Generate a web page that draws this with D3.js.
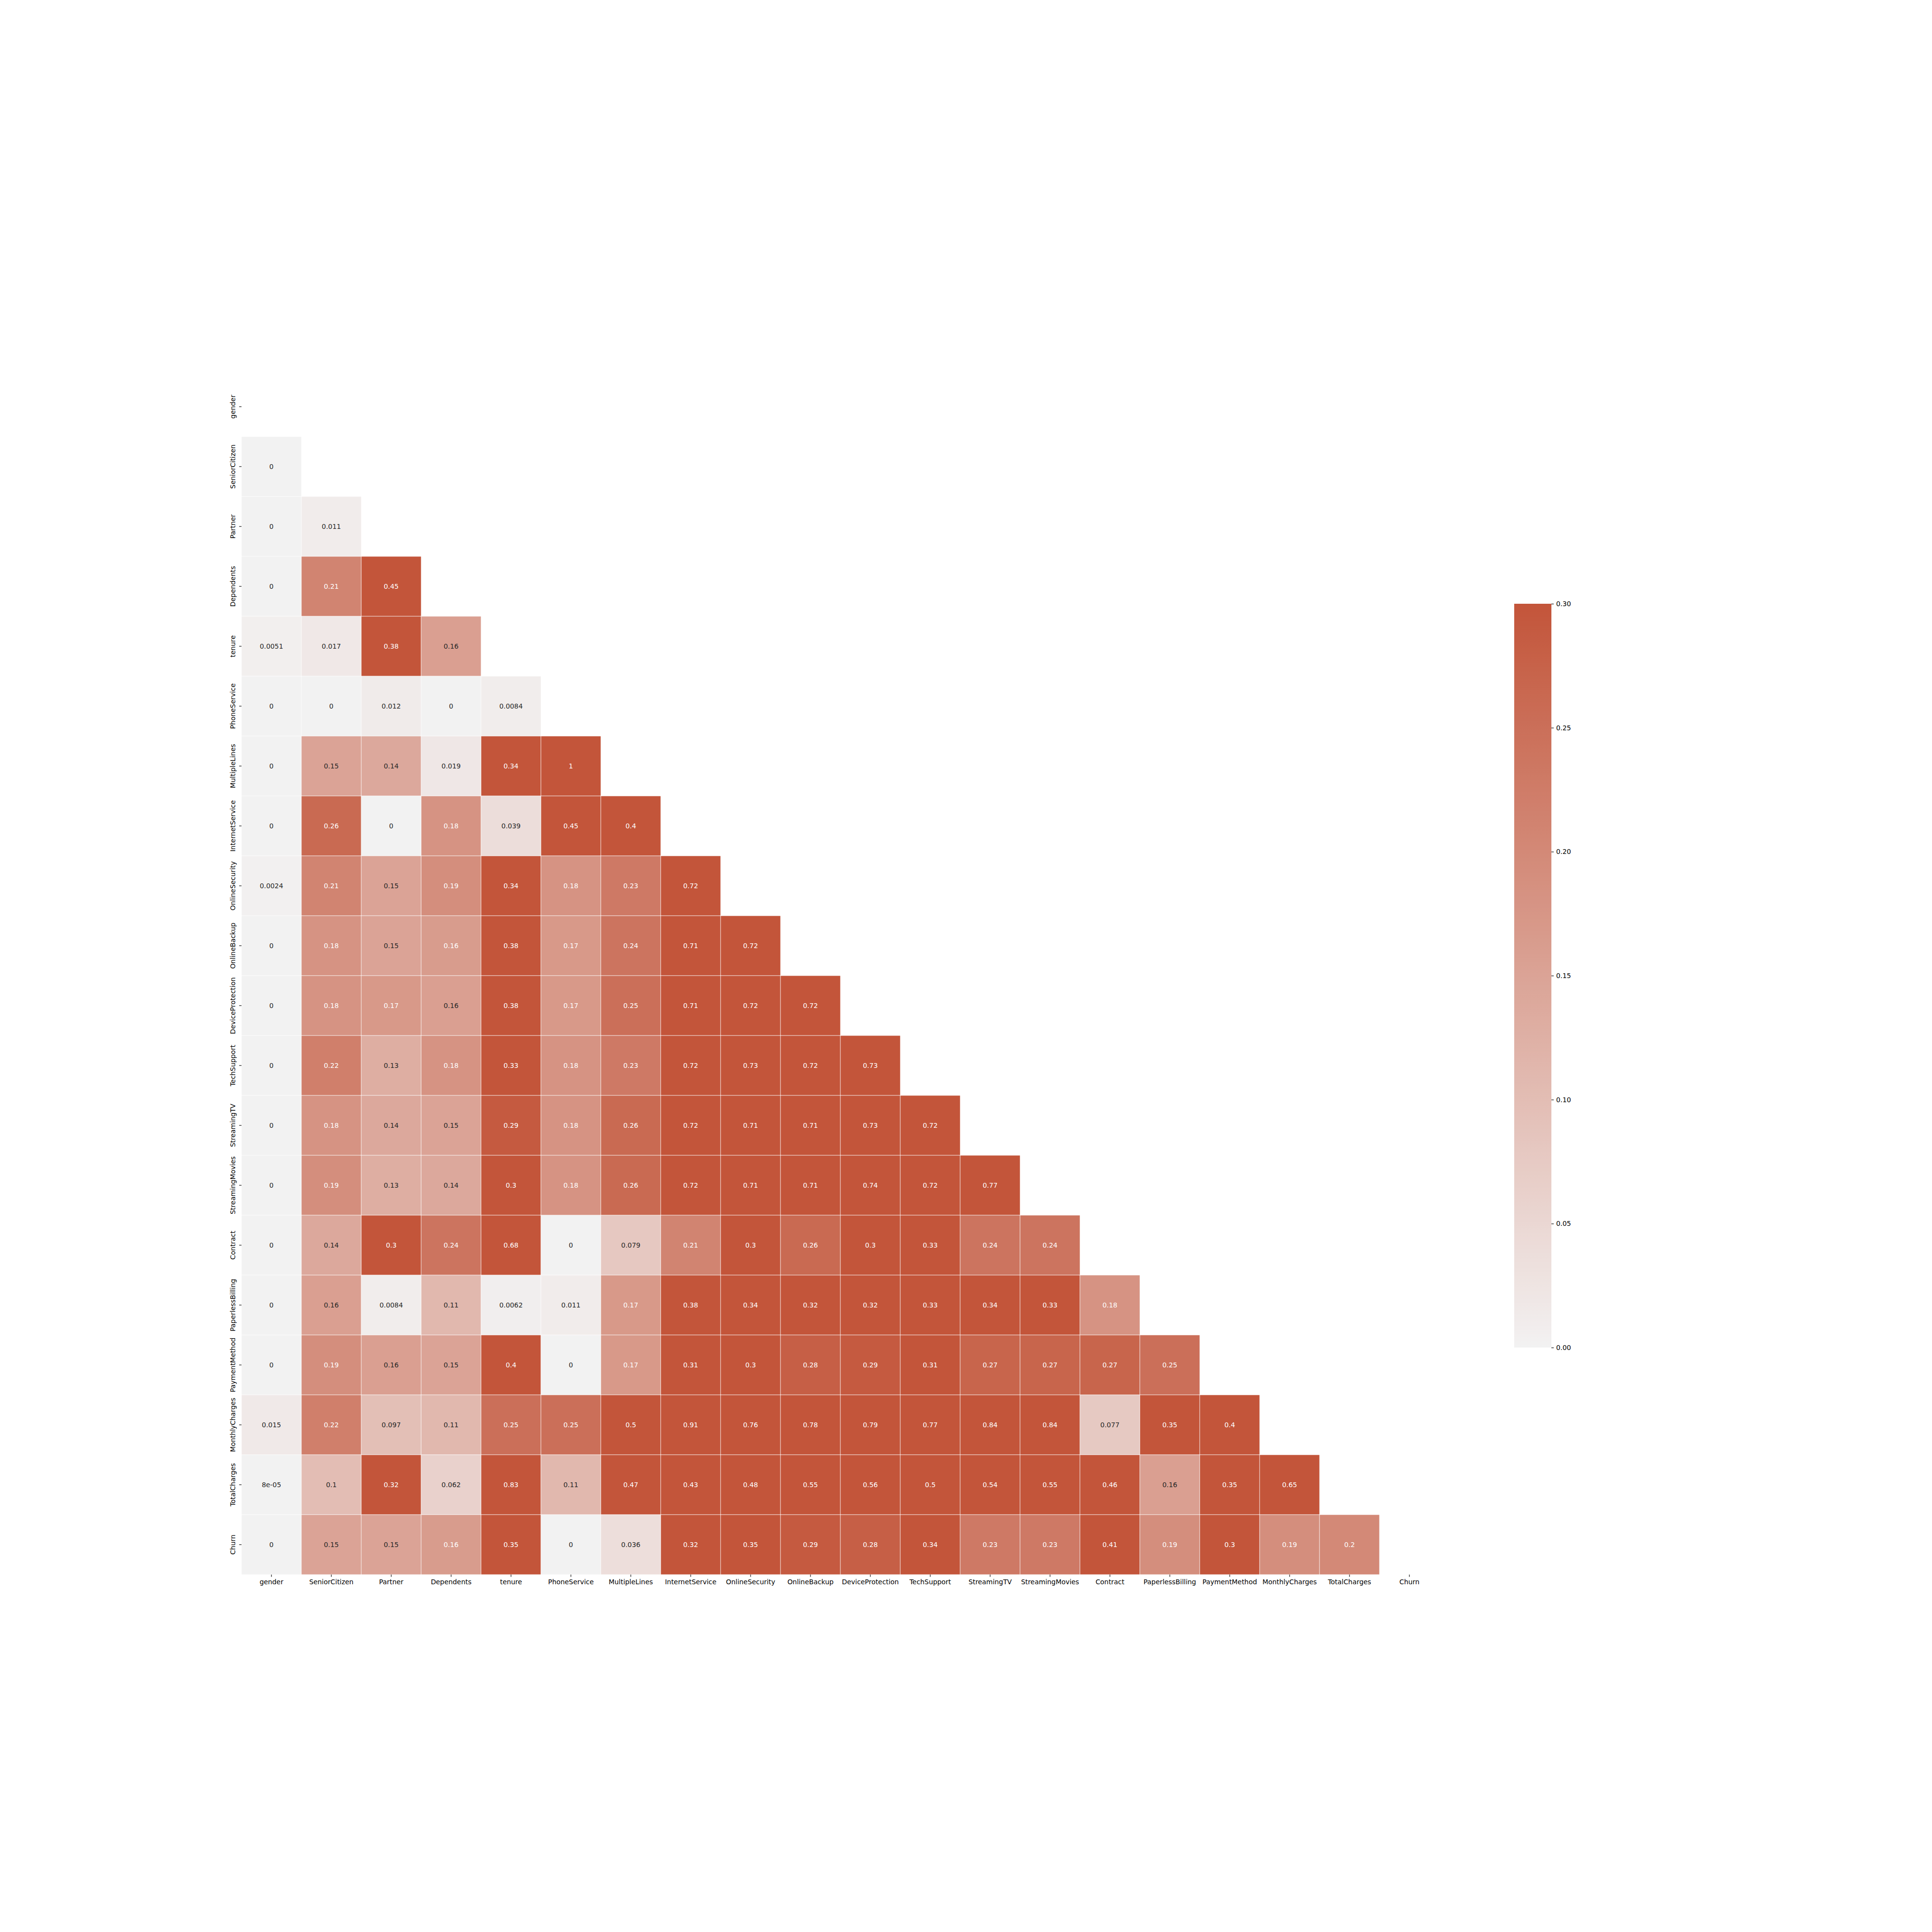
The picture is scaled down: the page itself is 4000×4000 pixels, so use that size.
<!DOCTYPE html>
<html><head><meta charset="utf-8">
<script src="https://cdn.jsdelivr.net/npm/d3@7"></script>
<style>body{margin:0;background:#fff}</style>
</head><body>
<script>
// ---------- DATA ----------
const labels = ["gender","SeniorCitizen","Partner","Dependents","tenure","PhoneService",
  "MultipleLines","InternetService","OnlineSecurity","OnlineBackup","DeviceProtection",
  "TechSupport","StreamingTV","StreamingMovies","Contract","PaperlessBilling",
  "PaymentMethod","MonthlyCharges","TotalCharges","Churn"];

// lower triangle (row i holds columns 0..i-1)
const corrRows = [
  [],
  [0],
  [0, 0.011],
  [0, 0.21, 0.45],
  [0.0051, 0.017, 0.38, 0.157],
  [0, 0, 0.012, 0, 0.0084],
  [0, 0.15, 0.14, 0.019, 0.34, 1],
  [0, 0.26, 0, 0.18, 0.039, 0.45, 0.4],
  [0.0024, 0.21, 0.15, 0.19, 0.34, 0.18, 0.23, 0.72],
  [0, 0.18, 0.15, 0.164, 0.38, 0.17, 0.24, 0.71, 0.72],
  [0, 0.18, 0.17, 0.157, 0.38, 0.17, 0.25, 0.71, 0.72, 0.72],
  [0, 0.22, 0.13, 0.18, 0.33, 0.18, 0.23, 0.72, 0.73, 0.72, 0.73],
  [0, 0.18, 0.14, 0.15, 0.29, 0.18, 0.26, 0.72, 0.71, 0.71, 0.73, 0.72],
  [0, 0.19, 0.13, 0.14, 0.3, 0.18, 0.26, 0.72, 0.71, 0.71, 0.74, 0.72, 0.77],
  [0, 0.14, 0.3, 0.24, 0.68, 0, 0.079, 0.21, 0.3, 0.26, 0.3, 0.33, 0.24, 0.24],
  [0, 0.157, 0.0084, 0.11, 0.0062, 0.011, 0.17, 0.38, 0.34, 0.32, 0.32, 0.33, 0.34, 0.33, 0.18],
  [0, 0.19, 0.157, 0.15, 0.4, 0, 0.17, 0.31, 0.3, 0.28, 0.29, 0.31, 0.27, 0.27, 0.27, 0.25],
  [0.015, 0.22, 0.097, 0.11, 0.25, 0.25, 0.5, 0.91, 0.76, 0.78, 0.79, 0.77, 0.84, 0.84, 0.077, 0.35, 0.4],
  [0.00008, 0.1, 0.32, 0.062, 0.83, 0.11, 0.47, 0.43, 0.48, 0.55, 0.56, 0.5, 0.54, 0.55, 0.46, 0.157, 0.35, 0.65],
  [0, 0.15, 0.15, 0.164, 0.35, 0, 0.036, 0.32, 0.35, 0.29, 0.28, 0.34, 0.23, 0.23, 0.41, 0.19, 0.3, 0.19, 0.2]
];

const cbarTicks = [0, 0.05, 0.10, 0.15, 0.20, 0.25, 0.30];
const vmax = 0.3;

// ---------- LAYOUT ----------
const W = 4000, H = 4000;
const FONT = "DejaVu Sans";
const FS = 13.9;
const TICK = 4.86;

const svg = d3.select("body").append("svg")
  .attr("width", W).attr("height", H)
  .style("font-family", FONT);
svg.append("rect").attr("width", W).attr("height", H).attr("fill", "#fff");

const x = d3.scaleBand().domain(labels).range([500, 2980]);
const y = d3.scaleBand().domain(labels).range([780, 3260]);
const color = d3.scaleLinear()
  .domain([0, vmax / 127, vmax])
  .range(["rgb(242,242,242)", "rgb(242,240,240)", "rgb(195,85,58)"])
  .clamp(true);

function lum(c) {
  const r = d3.rgb(c);
  const f = v => { v /= 255; return v <= 0.03928 ? v / 12.92 : Math.pow((v + 0.055) / 1.055, 2.4); };
  return 0.2126 * f(r.r) + 0.7152 * f(r.g) + 0.0722 * f(r.b);
}
function fmt(v) {
  if (v === 0) return "0";
  if (Math.abs(v) < 1e-4) {
    let s = v.toExponential(1).replace(/\.0e/, "e");
    return s.replace(/e([+-])(\d)$/, "e$10$2");
  }
  return d3.format(".2~g")(v);
}

const cells = [];
corrRows.forEach((row, i) => row.forEach((v, j) => cells.push({ r: labels[i], c: labels[j], v })));

const gCells = svg.append("g");
gCells.selectAll("rect").data(cells).join("rect")
  .attr("x", d => x(d.c)).attr("y", d => y(d.r))
  .attr("width", x.bandwidth()).attr("height", y.bandwidth())
  .attr("fill", d => color(d.v))
  .attr("stroke", "#fff").attr("stroke-width", 0.69);

gCells.selectAll("text").data(cells).join("text")
  .attr("x", d => x(d.c) + x.bandwidth() / 2)
  .attr("y", d => y(d.r) + y.bandwidth() / 2)
  .attr("text-anchor", "middle")
  .attr("dominant-baseline", "central")
  .attr("font-size", FS)
  .attr("fill", d => lum(color(d.v)) > 0.408 ? "rgb(38,38,38)" : "#fff")
  .text(d => fmt(d.v));

// x axis
svg.append("g").attr("transform", "translate(0,3260)")
  .call(d3.axisBottom(x).tickSize(TICK).tickPadding(TICK))
  .call(g => g.select(".domain").remove())
  .call(g => g.attr("font-size", FS).attr("font-family", FONT))
  .call(g => g.selectAll(".tick line").attr("stroke", "#000").attr("stroke-width", 1.11))
  .call(g => g.selectAll(".tick text").attr("fill", "#000"));

// y axis
svg.append("g").attr("transform", "translate(500,0)")
  .call(d3.axisLeft(y).tickSize(TICK).tickPadding(TICK))
  .call(g => g.select(".domain").remove())
  .call(g => g.attr("font-size", FS).attr("font-family", FONT))
  .call(g => g.selectAll(".tick line").attr("stroke", "#000").attr("stroke-width", 1.11))
  .call(g => g.selectAll(".tick text")
    .attr("fill", "#000").attr("x", null).attr("dy", null)
    .attr("text-anchor", "middle")
    .attr("transform", `translate(${-(TICK * 2 + 3.3)},0) rotate(-90)`));

// colorbar
const cy = d3.scaleLinear().domain([0, vmax]).range([2790, 1250]);
const defs = svg.append("defs");
const grad = defs.append("linearGradient").attr("id", "cbgrad")
  .attr("x1", 0).attr("y1", 1).attr("x2", 0).attr("y2", 0);
d3.range(0, 1.0001, 1 / 64).forEach(t => {
  grad.append("stop").attr("offset", t).attr("stop-color", color(t * vmax));
});
svg.append("rect").attr("x", 3135).attr("y", cy(vmax))
  .attr("width", 77).attr("height", cy(0) - cy(vmax))
  .attr("fill", "url(#cbgrad)");
svg.append("g").attr("transform", "translate(3212,0)")
  .call(d3.axisRight(cy).tickValues(cbarTicks).tickFormat(d3.format(".2f")).tickSize(TICK).tickPadding(TICK))
  .call(g => g.select(".domain").remove())
  .call(g => g.attr("font-size", FS).attr("font-family", FONT))
  .call(g => g.selectAll(".tick line").attr("stroke", "#000").attr("stroke-width", 1.11))
  .call(g => g.selectAll(".tick text").attr("fill", "#000"));
</script>
</body></html>
